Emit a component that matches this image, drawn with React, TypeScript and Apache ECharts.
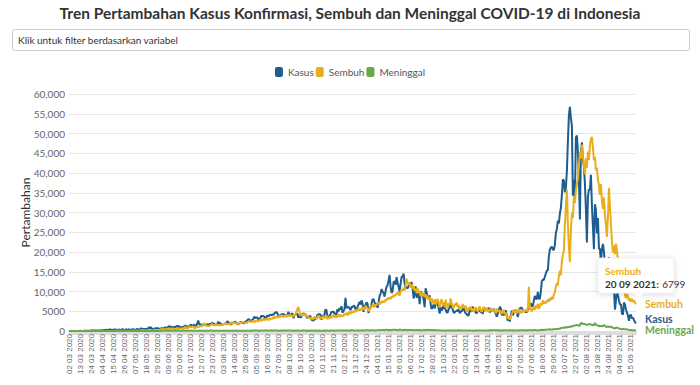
import React, { useEffect, useRef } from "react";
import * as echarts from "echarts";

// Daily additions, 2 March 2020 – 20 September 2021 (one line per month;
// the 18 July 2021 report is absent from the series)
const kasus: number[] = [
  2,0,0,0,2,0,2,13,8,7,0,35,27,21,17,38,55,82,60,81,64,65,106,105,103,153,109,130,129,114,
  149,113,196,106,181,218,247,218,337,219,330,399,316,282,297,380,407,325,327,185,375,283,357,436,396,275,214,415,260,347,
  433,292,349,395,484,367,338,336,533,387,233,484,689,568,490,529,489,496,486,693,973,634,949,526,479,415,686,687,678,700,467,
  609,609,684,585,703,993,672,847,1043,1241,979,1111,1014,857,1017,1106,1031,1331,1041,1226,862,954,1051,1113,1178,1385,1198,1082,1082,1293,
  1385,1624,1301,1447,1607,1209,1268,1853,2657,1611,1671,1681,1282,1591,1522,1574,1462,1752,1639,1693,1655,1882,2040,1761,1868,1525,1492,1748,2381,1904,2040,
  1560,1519,1679,1815,1815,1882,2473,2277,1893,1687,1693,1942,2098,2307,2345,2081,1821,1673,1902,2266,2197,2090,2037,1877,2447,2306,2719,3003,2858,2495,2743,
  2775,3075,3622,3269,3444,3444,2880,3046,3307,3861,3737,3806,3636,3141,3507,3963,3635,3891,4168,3989,4176,4071,4465,4634,4823,4494,3874,3509,4002,4284,
  4174,4317,4007,3992,3622,4056,4850,4094,4094,4294,4497,3267,3906,4127,4411,4301,3373,4105,3373,3602,4267,4432,4369,4070,3732,3222,3520,3770,3745,2897,2696,
  2618,2973,2973,3356,4065,4262,4262,4173,2853,3880,3770,4173,5444,5272,3535,3535,3807,4265,4798,4792,4998,4360,4442,4192,5534,4917,5828,5418,6267,4617,
  5092,5533,8369,5803,6027,6089,5754,5292,6058,6033,6388,6310,5489,5489,6120,6725,7354,6689,7751,6982,4854,6347,6541,7259,6923,4520,5854,5854,6809,8002,8074,
  7203,6783,6877,5854,7141,8854,9321,10617,10046,9640,8692,10047,11278,11557,12818,14224,11287,9640,10047,12404,12568,11703,13632,12287,11224,9993,11948,13695,13802,14518,12001,
  10994,10994,10770,11434,11749,12196,12290,10869,8242,9409,11303,8435,8844,9869,6765,10029,9687,9039,8054,6054,10807,9770,8493,8341,9018,6806,5560,6208,
  6680,5712,6808,6971,6971,5767,4431,6036,5189,5633,6565,5758,5414,4714,4714,5656,5773,6962,6291,5478,4604,4731,4974,5227,5041,5595,4461,4952,5008,5401,6164,
  4913,4445,4304,3892,3965,5190,5325,4867,6179,5314,5092,4711,4476,5254,5112,5108,4772,4693,4369,5549,5720,5659,5523,5523,5882,4759,4952,5241,5241,5658,
  4839,4394,3621,4346,5143,6130,5796,3933,4891,3922,4608,5241,3925,2633,3448,2385,4060,5118,3926,4609,5022,5296,4877,3512,4725,5731,5893,5862,5280,5033,5003,
  4824,4824,5246,5593,6594,6993,6294,6294,7725,8892,8058,8161,9868,8189,8161,9944,12624,12990,12906,13737,14536,15308,15308,18872,20574,21095,21342,20694,20467,21807,
  24836,25830,27913,27233,29745,31189,34379,38391,38124,35094,36197,40427,47899,54517,56757,54000,51952,34257,38325,33772,49071,49509,45416,38679,28228,45203,47791,43479,41649,37284,
  30738,22404,33900,35867,35764,39532,31753,26415,20709,32081,30625,24709,28598,20813,20813,17384,20741,22053,20004,16744,16744,12408,16899,18671,16899,15472,14837,12408,10534,5436,7797,
  10534,8955,7797,6726,6731,4413,4131,7201,6731,5376,4715,3779,2577,3948,4128,3145,3385,2798,2234,1932,
];

const sembuh: number[] = [
  0,0,0,0,0,0,0,0,0,0,2,0,3,0,0,0,1,2,3,0,3,9,0,0,1,0,7,6,0,2,
  22,10,17,14,11,12,15,12,13,24,33,16,22,31,46,55,48,76,45,41,37,46,33,51,56,44,49,53,29,70,
  72,80,65,74,82,96,91,121,152,110,94,116,181,200,234,124,127,183,144,212,194,263,170,124,152,253,154,186,206,264,204,
  385,447,519,425,449,477,545,486,552,470,528,593,650,561,436,508,574,670,492,510,608,639,634,551,608,1176,695,623,787,1272,
  881,1072,1028,1211,770,741,1087,1005,1043,1068,1187,1213,1490,1356,2035,1578,1312,1317,1215,1203,1435,1609,1811,1480,1458,1547,1551,1648,1481,1480,1525,
  1468,1570,1678,1846,1850,1762,1745,1854,1697,1657,2263,2001,1882,2195,2088,1896,1813,1726,1847,2201,2048,2251,2213,2018,2053,2012,2288,2372,2460,2358,2427,
  2295,2651,2183,2587,2390,2768,2360,2648,2961,2514,2770,3136,2713,3028,2825,3209,2747,3073,2965,3302,3014,3556,3165,3675,3349,3770,3351,3845,3507,4052,
  3873,3484,3947,3613,4057,3658,4124,3712,4101,3771,3982,3648,4207,3926,4912,5512,6101,4978,3760,4302,3931,4396,3965,4401,3855,3603,3220,3467,3109,3363,2940,
  3118,3604,3460,2902,3536,3870,3401,3012,3604,3186,3812,3281,3621,3943,2962,3501,3197,3721,3311,3781,4098,3480,3846,3354,3910,4295,3512,4168,3712,3874,
  3810,4412,4147,4613,3908,4596,4846,4278,5013,4579,5102,4680,5401,4958,5323,5745,5112,5623,5403,6021,5678,5240,6390,5882,5871,5012,5348,6048,6539,6102,6747,
  6012,6748,6471,7108,6787,7412,6817,7531,7222,7618,7209,7974,7695,8360,8002,8511,8088,8756,8412,9178,8765,9390,9122,9876,9561,8971,9912,10513,10220,10974,10243,
  11521,13268,12392,11694,12307,10974,11847,10723,11431,10158,10756,9517,10841,9632,9924,8812,9977,8811,9699,8542,9321,8128,8987,7854,8621,7437,8304,7156,
  7124,8035,6711,7584,8119,6812,5923,7436,8051,6702,7315,6128,7921,6547,5810,7032,6611,8237,6998,6115,5734,6912,6408,7254,5981,6617,5430,6204,5752,6818,6011,
  5802,6421,5113,4876,6024,5531,6189,5012,5732,4823,5374,6011,5488,4912,5706,6304,5119,4851,5526,6082,5417,4962,5810,5234,4743,5389,5911,4977,5305,5602,
  5103,4488,5712,4901,5320,4693,5177,4302,4867,5425,4211,4698,3720,3104,3512,2908,3477,4356,4912,5398,4635,5210,4486,4871,5532,4397,5026,4608,5341,4772,5218,
  5012,5643,4889,11210,6023,5417,4981,5720,6187,5352,6544,5803,6912,5587,6235,7102,6528,7811,6844,7459,7012,7386,8040,7412,8325,7810,8677,8012,9186,9830,
  11214,12106,11538,13921,15243,14108,17632,19417,20361,26845,31420,35817,27136,21304,17452,25618,29934,28612,34120,32356,35641,37218,38450,41736,45318,43620,47214,44152,41836,39627,
  43708,41265,45412,43318,46853,48615,49146,46521,43270,44118,40634,41352,38217,36940,34428,37165,32810,30947,33826,29453,26719,23845,29132,36248,31426,26958,22631,19846,21712,19438,22105,
  20316,17834,14216,12158,10237,11426,9652,10834,9143,8321,9458,8716,7627,8215,7436,8112,7348,7725,7146,6799,
];

const meninggal: number[] = [
  0,0,0,0,0,0,0,0,0,1,0,3,1,1,0,0,0,14,6,6,7,10,1,6,3,20,13,9,15,8,
  21,13,11,21,10,7,11,19,40,26,26,20,26,26,10,10,24,13,47,8,8,45,12,37,27,14,7,22,11,8,
  8,31,11,13,12,21,15,7,24,19,15,16,21,9,13,12,16,33,15,24,15,21,35,12,23,27,21,24,31,22,29,
  31,25,50,49,40,42,35,32,43,44,45,40,36,46,36,45,43,35,34,34,37,56,35,46,39,37,41,51,53,50,
  53,71,49,57,82,50,68,58,58,49,66,71,87,76,76,82,84,85,84,61,139,118,89,63,74,84,57,74,74,65,49,
  65,84,79,50,72,66,74,65,59,79,63,70,85,118,73,64,70,45,84,79,60,86,68,71,87,84,101,90,92,86,100,
  85,104,102,105,108,109,78,105,78,110,107,85,102,118,105,106,88,121,105,116,100,124,160,115,128,103,86,89,113,116,
  75,110,100,84,98,102,108,110,96,116,71,102,88,98,89,100,96,71,93,91,134,112,102,91,128,73,77,111,86,101,98,
  77,61,106,124,86,83,101,73,57,81,94,100,86,110,100,65,86,99,118,142,89,110,94,116,114,148,155,112,124,116,
  118,130,156,109,121,155,121,132,165,161,152,132,143,126,129,142,157,134,152,171,111,128,175,215,178,177,139,138,177,173,166,
  133,133,152,221,238,187,224,225,233,245,196,302,306,210,271,194,250,161,308,294,346,258,289,211,186,387,336,187,215,269,301,
  239,161,270,207,245,223,246,242,211,207,205,233,236,198,244,175,146,197,243,235,183,188,323,265,228,255,189,191,
  259,183,188,183,157,204,119,109,101,139,135,133,88,104,113,160,143,143,133,133,129,139,150,124,138,174,105,119,117,138,96,
  152,105,127,93,119,98,133,95,108,92,87,110,129,119,109,131,102,99,95,133,105,114,159,112,127,174,170,176,166,178,
  170,180,175,150,145,163,154,156,187,133,176,182,116,107,128,174,190,148,167,149,145,139,174,152,147,177,178,161,162,137,171,
  177,128,184,223,186,209,212,198,208,278,205,172,157,172,225,256,255,296,283,310,299,353,366,392,417,378,325,412,415,428,
  504,539,491,555,558,728,728,852,871,826,1007,892,985,1007,982,1205,1092,1338,1280,1383,1449,1566,1415,1266,1487,2069,1824,1893,1759,1808,
  1604,1568,1598,1747,1739,1588,1635,1475,1475,2048,1579,1466,1270,1359,1176,1245,1325,1128,1492,1348,1008,1030,1177,1038,1075,1134,857,873,748,625,887,
  850,770,629,553,477,350,569,465,460,443,413,327,296,211,242,236,139,215,181,200,
];

const missingDates = ["18 07 2021"];

const seriesNames = ["Kasus", "Sembuh", "Meninggal"];
const seriesColors = ["#1d5d8f", "#e9ae1a", "#6aa84c"];
// vertical nudge of each end label next to the last point
const endLabelShift = [-4, 0, 0];

const titleText = "Tren Pertambahan Kasus Konfirmasi, Sembuh dan Meninggal COVID-19 di Indonesia";
const filterText = "Klik untuk filter berdasarkan variabel";
const yAxisName = "Pertambahan";

const pad = (n: number) => (n < 10 ? "0" + n : String(n));

// "DD MM YYYY" labels, one per reported day starting 2 March 2020
function buildDates(n: number): string[] {
  const out: string[] = [];
  for (let i = 0; out.length < n; i++) {
    const d = new Date(Date.UTC(2020, 2, 2 + i));
    const s = `${pad(d.getUTCDate())} ${pad(d.getUTCMonth() + 1)} ${d.getUTCFullYear()}`;
    if (!missingDates.includes(s)) out.push(s);
  }
  return out;
}

const FONT = "Lato, 'Noto Sans', sans-serif";

export default function App() {
  const ref = useRef<HTMLDivElement>(null);

  useEffect(() => {
    if (!ref.current) return;
    const chart = echarts.init(ref.current, null, { renderer: "svg" });
    const dates = buildDates(kasus.length);
    const last = sembuh.length - 1;
    const data = [kasus, sembuh, meninggal];

    chart.setOption({
      animation: false,
      backgroundColor: "#ffffff",
      textStyle: { fontFamily: FONT },
      legend: {
        top: 62,
        left: "center",
        icon: "roundRect",
        itemWidth: 8,
        itemHeight: 10,
        itemGap: 2,
        textStyle: { fontSize: 10, color: "#555555", fontFamily: FONT },
        data: seriesNames,
      },
      grid: { left: 69, right: 64, top: 94, bottom: 54 },
      xAxis: {
        type: "category",
        data: dates,
        boundaryGap: false,
        axisLine: { lineStyle: { color: "#cccccc" } },
        axisTick: { show: true, interval: 0, length: 4, lineStyle: { color: "#dddddd" } },
        axisLabel: {
          interval: 10,
          rotate: 90,
          fontSize: 8,
          color: "#666666",
          fontFamily: "'Liberation Sans', Arial, sans-serif",
          margin: 3,
        },
        splitLine: { show: false },
      },
      yAxis: {
        type: "value",
        min: 0,
        max: 60000,
        interval: 5000,
        name: yAxisName,
        nameLocation: "middle",
        nameGap: 38,
        nameMoveOverlap: false,
        nameTextStyle: { fontSize: 12, color: "#333333", fontFamily: FONT },
        axisLine: { show: false },
        axisTick: { show: false },
        axisLabel: {
          fontSize: 10,
          color: "#666666",
          margin: 4,
          formatter: (v: number) => (v >= 10000 ? v.toLocaleString("en-US") : String(v)),
        },
        splitLine: { lineStyle: { color: "#e6e6e6" } },
      },
      series: seriesNames.map((name, i) => ({
        name,
        type: "line",
        data: data[i],
        showSymbol: false,
        symbol: "none",
        color: seriesColors[i],
        lineStyle: { width: 2, color: seriesColors[i] },
        endLabel: {
          show: true,
          formatter: "{a}",
          color: seriesColors[i],
          fontWeight: "bold",
          fontSize: 10.5,
          fontFamily: FONT,
          distance: 9,
          padding: [1, 0, 1, 0],
        },
        labelLine: { show: true, length2: 4, lineStyle: { color: seriesColors[i], width: 1 } },
        labelLayout: { moveOverlap: "shiftY", dy: endLabelShift[i] },
      })),
      graphic: [
        {
          type: "text",
          x: 350,
          y: 13,
          style: {
            text: titleText,
            fill: "#333333",
            font: `bold 15.5px ${FONT}`,
            textAlign: "center",
            textVerticalAlign: "middle",
          },
        },
        {
          type: "rect",
          shape: { x: 12.5, y: 29.5, width: 677, height: 21, r: 2 },
          style: { fill: "#ffffff", stroke: "#cccccc", lineWidth: 1 },
        },
        {
          type: "text",
          x: 18,
          y: 40,
          style: {
            text: filterText,
            fill: "#333333",
            font: `10px ${FONT}`,
            textVerticalAlign: "middle",
          },
        },
        {
          type: "group",
          x: 598,
          y: 258,
          z: 100,
          children: [
            {
              type: "rect",
              z: 100,
              shape: { x: 0, y: 0, width: 76, height: 35, r: 3 },
              style: {
                fill: "#ffffff",
                stroke: "#eeeeee",
                shadowBlur: 6,
                shadowColor: "rgba(0,0,0,0.15)",
                shadowOffsetY: 1,
              },
            },
            {
              type: "polygon",
              z: 101,
              shape: { points: [[36, 34.5], [46, 34.5], [41, 40]] },
              style: { fill: "#ffffff" },
            },
            {
              type: "text",
              z: 102,
              x: 7,
              y: 8,
              style: { text: seriesNames[1], fill: seriesColors[1], font: `bold 10px ${FONT}` },
            },
            {
              type: "text",
              z: 102,
              x: 7,
              y: 20,
              style: {
                text: `{d|${dates[last]}:} {v|${sembuh[last]}}`,
                rich: {
                  d: { fontWeight: "bold", fontSize: 10, fill: "#333333", fontFamily: FONT },
                  v: { fontSize: 10, fill: "#333333", fontFamily: FONT },
                },
              },
            },
          ],
        },
      ],
    });

    return () => chart.dispose();
  }, []);

  return (
    <div
      ref={ref}
      style={{ position: "fixed", left: 0, top: 0, width: 700, height: 385, background: "#ffffff" }}
    />
  );
}
